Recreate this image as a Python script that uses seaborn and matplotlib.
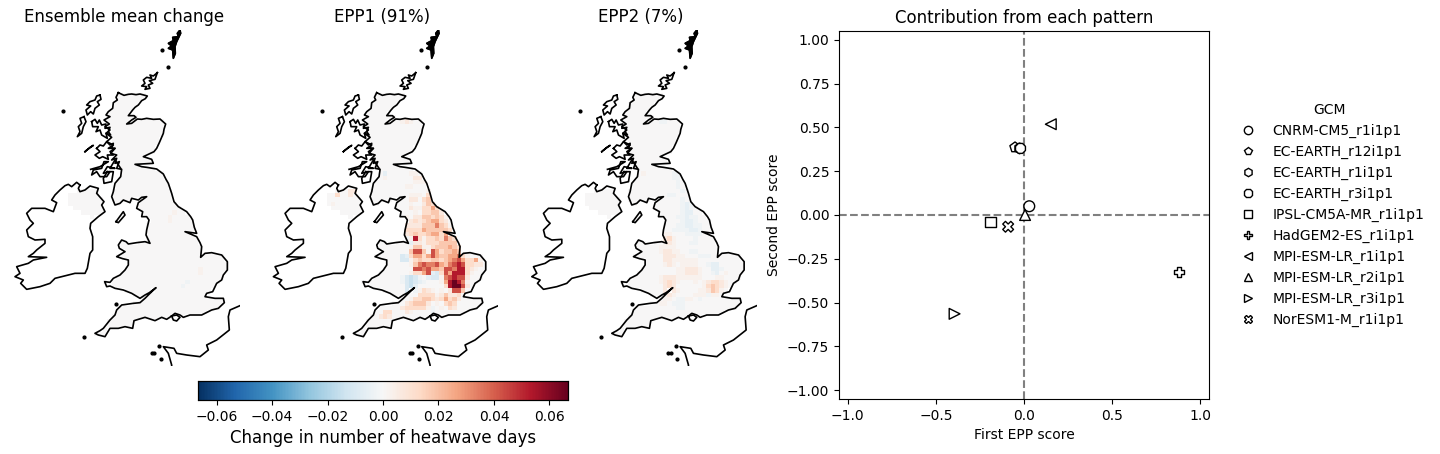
import numpy as np
import pandas as pd
import seaborn as sns
from matplotlib import pyplot as plt
from matplotlib.path import Path

# coast outlines (map units, y down)
great_britain = [(355,218),(372,226),(385,223),(395,222),(408,224),(420,222),(442,228),(436,236),(425,242),(415,255),
    (405,262),(398,270),(385,287),(402,287),(408,292),(395,300),(380,312),(395,310),(412,297),(425,298),(440,295),
    (460,298),(480,297),(497,312),(492,328),(490,340),(478,368),(470,385),(462,395),(445,403),(430,410),(455,418),
    (460,430),(405,433),(425,440),(440,442),(470,447),(490,462),(498,478),(505,490),(515,520),(522,545),(535,560),
    (560,575),(572,590),(578,600),(583,622),(590,640),(555,635),(590,650),(600,668),(605,680),(602,712),(615,700),
    (635,698),(665,705),(682,725),(682,750),(670,765),(665,780),(650,790),(638,815),(620,820),(615,830),(645,835),
    (670,835),(673,848),(655,865),(635,870),(605,885),(570,885),(550,892),(540,885),(525,880),(515,888),(500,898),
    (485,892),(465,902),(435,892),(415,898),(402,902),(398,925),(375,920),(355,925),(330,925),(315,950),(295,945),
    (285,940),(300,932),(310,925),(330,900),(345,885),(350,870),(365,855),(400,850),(420,848),(435,835),(450,820),
    (468,803),(448,818),(435,825),(420,835),(395,820),(370,810),(345,805),(330,798),(320,800),(314,785),(330,787),
    (340,775),(360,765),(375,750),(385,735),(385,720),(368,716),(350,710),(375,695),(358,685),(355,675),(365,660),
    (378,665),(385,672),(410,668),(435,665),(450,670),(438,645),(440,630),(447,600),(440,590),(425,590),(428,575),
    (410,565),(415,548),(440,530),(425,532),(415,540),(395,535),(390,548),(370,540),(360,550),(345,555),(335,530),
    (340,515),(345,490),(362,470),(365,448),(350,445),(358,425),(345,430),(350,415),(335,420),(350,405),(332,400),
    (345,385),(325,385),(340,375),(320,365),(335,352),(318,340),(330,330),(315,320),(328,312),(312,300),(330,290),
    (318,285),(325,275),(338,265),(340,248),(352,240),(348,232),(355,218)]
ireland = [(240,495),(230,487),(215,500),(205,493),(195,497),(180,510),(165,525),(155,540),(170,548),(160,575),
    (135,565),(120,565),(95,565),(80,580),(90,600),(100,610),(80,630),(85,650),(105,660),(135,658),(135,670),
    (110,690),(100,700),(85,710),(140,712),(100,720),(85,730),(50,740),(60,760),(45,770),(70,780),(62,790),(80,808),
    (120,800),(150,790),(165,775),(205,765),(225,760),(255,760),(262,745),(270,700),(278,690),(278,650),(270,625),
    (272,610),(295,590),(315,575),(305,555),(312,545),(290,520),(295,505),(270,498),(255,510),(240,515),(235,505),(240,495)]
france = [(720,857),(690,870),(685,890),(688,930),(650,960),(620,975),(625,990),(600,1010),(560,1005),(530,1000),
    (522,985),(490,980),(505,1000),(515,1035),(515,1040)]
wight = [(515,888),(530,885),(540,892),(530,903),(520,900),(515,888)]
isle_of_man = [(348,605),(370,575),(375,585),(355,608),(348,605)]
shetland = [(540,30),(532,40),(535,50),(518,52),(520,62),(505,70),(515,78),(505,85),(518,90),(520,115),(526,100),
    (525,80),(530,65),(542,40),(540,30)]
orkney = [(472,158),(460,168),(450,165),(455,175),(440,172),(430,180),(435,190),(425,198),(440,200),(435,208),(450,205),
    (445,195),(458,190),(448,182),(465,178),(472,158)]
lewis = [(300,225),(290,228),(285,240),(270,245),(260,255),(272,258),(258,270),(262,285),(272,275),(280,282),(285,265),
    (298,255),(292,245),(303,238),(300,225)]
uist = [(252,290),(240,295),(245,310),(235,320),(240,335),(232,350),(245,340),(250,320),(258,305),(252,290)]
skye = [(275,305),(285,298),(292,310),(298,300),(305,315),(318,312),(315,325),(330,322),(325,335),(332,345),(318,340),
    (322,355),(305,345),(300,330),(288,335),(295,320),(278,320),(275,305)]
mull = [(290,385),(300,375),(310,378),(320,365),(330,375),(340,370),(335,385),(345,385),(330,395),(340,405),(322,405),
    (325,418),(308,410),(298,415),(285,405),(300,395),(290,385)]
coll = [(255,395),(270,382),(280,376),(258,392),(255,395)]
jura = [(362,445),(345,420),(330,445),(345,445),(322,440),(310,460),(330,455),(320,470),(300,470),(290,455),(275,465),
    (280,450),(305,445),(312,425),(325,425),(300,440),(272,448)]
kintyre = [(322,455),(340,455),(335,485),(312,490),(310,475),(322,455)]
dots = [(190,273),(487,90),(505,142),(347,851),(252,952),(462,998),(455,1000),(478,978),(482,1018)]
ni_land = [(210,520),(245,505),(285,500),(305,530),(315,570),(280,595),(250,580),(210,560)]

# cell levels, rows start at grid row 22, strings at grid column 11
level_values = {"0":0.0,"1":0.003,"2":0.007,"3":0.012,"4":0.018,"5":0.026,"6":0.034,"7":0.043,"8":0.053,"9":0.066,
                "a":-0.003,"b":-0.006,"c":-0.010,"d":-0.015}
epp1_rows = ["00000000000011",
    "0000000011103","0000000022034","00000000100243","000000002113353","0000000001033442",
    "00000001022443431","00000000232345532","000000022224446431","000000033335444443",
    "0000000234334553532","0000000a183133436431","00000000b22133344442","00000000144113444543",
    "00000000477417534454","000000cb35535754455631","000000cc13433443456753351",
    "0000000014676675467873322","000000000776755477688321","0000000013357bc37588831",
    "000000acdca0bcc1678772","000000acdcba0001589861","0000000cdb000000389972",
    "0000000cca13210102774","00000000003333124223","00000000133443235342",
    "0000000234442010343","0000002333331a01032","0033000210000a","0232"]
epp2_rows = ["",
    "00000000aa","00000000000a","00000000000aba","00000000000aba","00000000000abb",
    "0000000000aabaa","00000000000abba","0000000000aabbaa","000000000aaaabba",
    "000000011000aaaa","00000002310000a","0000000121000aa","0000001111",
    "0000001221100aa","000000022211000aaa","000000022111111",
    "00000001210111100abb","000000000011222100bba","000000000011222100ab01",
    "000000122211111100011","0000001232100010123321","0000000232000000134321",
    "000000023210000112431","00000001210000111a11","0000000110aa110a",
    "000000110aaa","0000000000aa"]
epp1_extra = [(6,17,"1"),(6,18,"2"),(6,19,"1"),(18,13,"b"),(18,19,"1"),(18,20,"1"),(19,13,"1"),(19,20,"2"),(19,21,"2"),
    (20,20,"1"),(20,21,"1"),(20,22,"1"),(21,18,"1"),(21,19,"1"),(22,5,"2"),(22,6,"2"),(23,2,"3"),(23,5,"2"),(25,1,"1")]
epp2_extra = [(6,17,"a"),(6,18,"a"),(18,13,"1"),(18,20,"a"),(18,21,"a"),(19,20,"a"),(19,21,"a"),(20,21,"a"),(21,21,"a"),(22,22,"a")]
mean_extra = [(27,24,"1"),(28,23,"1"),(29,23,"1"),(40,30,"1"),(41,30,"1"),(43,27,"a"),(44,26,"a")]

panel_titles = ["Ensemble mean change", "EPP1 (91%)", "EPP2 (7%)"]

# scatter
gcm_names = ["CNRM-CM5_r1i1p1","EC-EARTH_r12i1p1","EC-EARTH_r1i1p1","EC-EARTH_r3i1p1","IPSL-CM5A-MR_r1i1p1",
             "HadGEM2-ES_r1i1p1","MPI-ESM-LR_r1i1p1","MPI-ESM-LR_r2i1p1","MPI-ESM-LR_r3i1p1","NorESM1-M_r1i1p1"]
first_score = [0.03,-0.051,-0.025,-0.02,-0.188,0.88,0.152,0.006,-0.394,-0.09]
second_score = [0.05,0.386,0.38,0.38,-0.04,-0.325,0.518,0.0,-0.564,-0.067]
gcm_markers = ["o","p","h","8","s","P","<","^",">","X"]

W, H = 1440, 454
N_ROWS, N_COLS = 56, 37
CELL, X0, Y0 = 13, 205, 220
VMAX = 0.0667


def px_axes(fig, left, right, top, bottom):
    return fig.add_axes([left/W, 1-bottom/H, (right-left)/W, (bottom-top)/H])


def to_grid(points):
    pts = np.array(points, dtype=float)
    return (pts[:, 0]-X0)/CELL, (pts[:, 1]-Y0)/CELL


def build_field(rows, extra):
    field = np.zeros((N_ROWS, N_COLS))
    for r, text in enumerate(rows):
        for c, ch in enumerate(text):
            field[22+r, 11+c] = level_values[ch]
    for r, c, ch in extra:
        field[r, c] = level_values[ch]
    return field


cx, cy = np.meshgrid(np.arange(N_COLS)+0.5, np.arange(N_ROWS)+0.5)
centres = np.column_stack([cx.ravel(), cy.ravel()])
land = Path(np.column_stack(to_grid(great_britain))).contains_points(centres)
land |= Path(np.column_stack(to_grid(ni_land))).contains_points(centres)
land = land.reshape(N_ROWS, N_COLS)

fields = [build_field([], mean_extra), build_field(epp1_rows, epp1_extra), build_field(epp2_rows, epp2_extra)]
outlines = [great_britain, ireland, france, wight, isle_of_man, shetland, orkney, lewis, uist, skye, mull, coll, jura,
            kintyre]

fig = plt.figure(figsize=(W/100, H/100), dpi=100)
cax = px_axes(fig, 198, 568, 381, 400)

for i in range(3):
    off = 258.4*i
    ax = px_axes(fig, 8+off, 240+off, 30, 366)
    sns.heatmap(fields[i], mask=~land, cmap="RdBu_r", vmin=-VMAX, vmax=VMAX, ax=ax,
                cbar=i == 0, cbar_ax=cax if i == 0 else None, cbar_kws={"orientation": "horizontal"},
                xticklabels=False, yticklabels=False)
    for line in outlines:
        lx, ly = to_grid(line)
        ax.plot(lx, ly, color="k", lw=1.2)
    lx, ly = to_grid(shetland)
    ax.fill(lx, ly, color="k")
    dx, dy = to_grid(dots)
    ax.plot(dx, dy, ls="none", marker="o", ms=2, color="k")
    ax.set_xlim((24-X0)/CELL, (720-X0)/CELL)
    ax.set_ylim((1038-Y0)/CELL, (30-Y0)/CELL)
    ax.set_axis_off()
    ax.set_title(panel_titles[i], fontsize=12)

cax.set_xlabel("Change in number of heatwave days", fontsize=12)
for s in cax.spines.values():
    s.set_visible(True)
    s.set_linewidth(0.8)

ax4 = px_axes(fig, 839, 1209, 31, 399)
df = pd.DataFrame({"first": first_score, "second": second_score, "GCM": gcm_names})
ax4.axhline(0, color="grey", ls="--", lw=1.5)
ax4.axvline(0, color="grey", ls="--", lw=1.5)
sns.scatterplot(data=df, x="first", y="second", style="GCM", style_order=gcm_names,
                markers=dict(zip(gcm_names, gcm_markers)), color="white", edgecolor="k", linewidth=1, s=60,
                zorder=3, ax=ax4)
ax4.set_xlim(-1.05, 1.05)
ax4.set_ylim(-1.05, 1.05)
ax4.set_xlabel("First EPP score")
ax4.set_ylabel("Second EPP score")
ax4.set_title("Contribution from each pattern", fontsize=12)
sns.move_legend(ax4, "center left", bbox_to_anchor=(1.033, 0.5), frameon=False, title="GCM")
for h in ax4.get_legend().legend_handles:
    h.set_markerfacecolor("white")
    h.set_markeredgecolor("k")
    h.set_markeredgewidth(1)
    h.set_markersize(6)

fig.savefig("out.png", dpi=100)
